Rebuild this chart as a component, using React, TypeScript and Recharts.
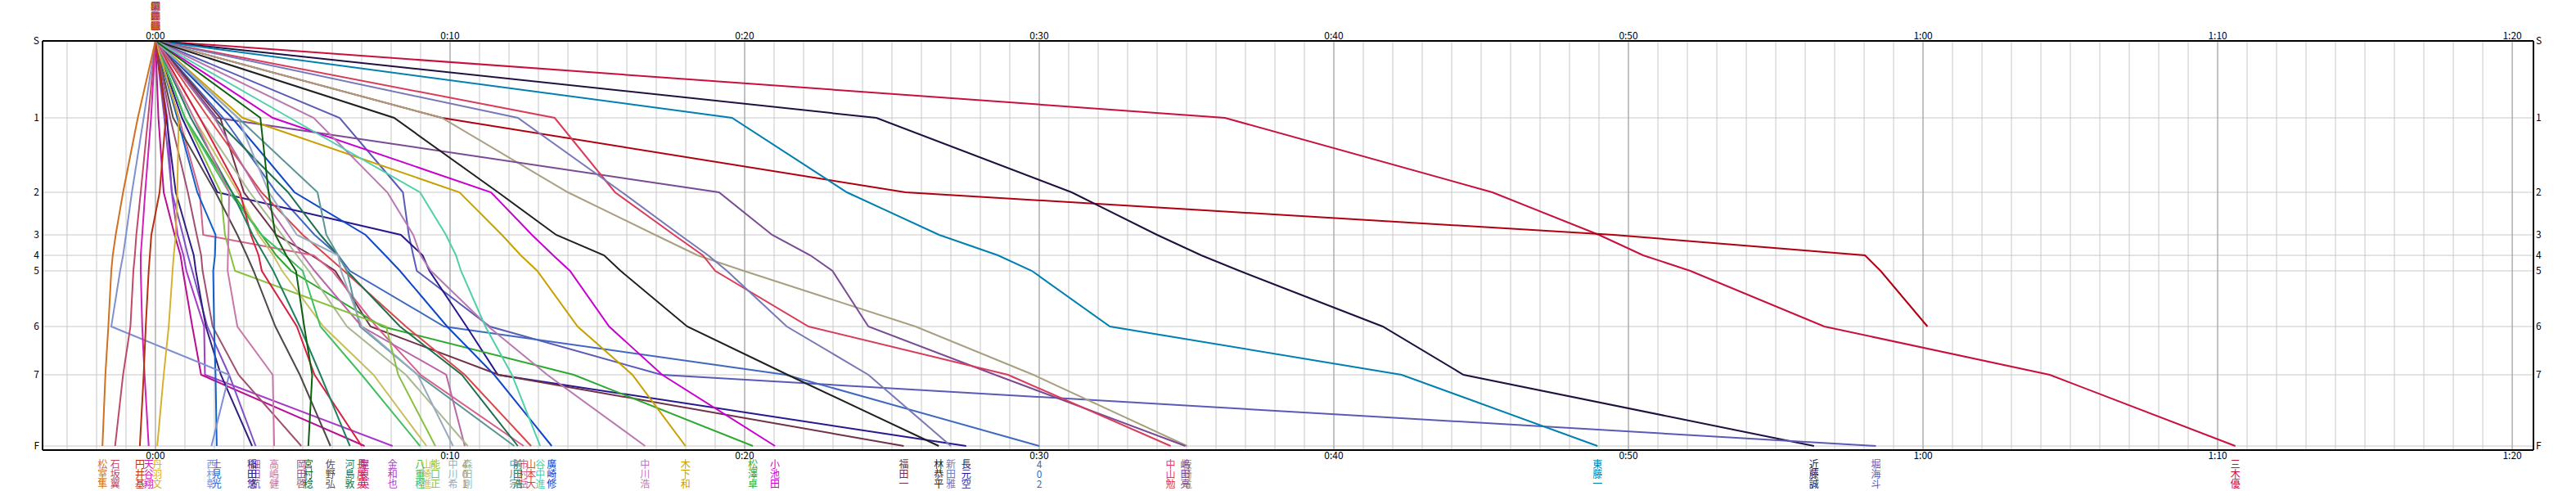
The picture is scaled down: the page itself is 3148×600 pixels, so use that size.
import React from 'react';
import { LineChart, Line, XAxis, YAxis, CartesianGrid } from 'recharts';

const FONT = '"Noto Sans CJK JP", "Noto Sans", sans-serif';
const W = 3148;
const H = 600;
const AXIS = 20;
const MARGIN = { top: 50 - AXIS, right: 52 - AXIS, bottom: 50 - AXIS, left: 52 - AXIS };

// controls, and where each one sits on the vertical scale
const CONTROL_LABELS = ['S', '1', '2', '3', '4', '5', '6', '7', 'F'];
const CONTROL_POS = [0, 94, 185, 237, 262, 281, 349, 408, 495];

// time axis (minutes)
const TIME_DOMAIN = [-3.833, 80.72];
const MAJOR_TICKS = [0, 10, 20, 30, 40, 50, 60, 70, 80];
const MINOR_TICKS = Array.from({ length: 84 }, (_, i) => i - 3);

const NAMES = [
  '三木優', '大西勇', '近藤誠', '堀海斗', '東藤一', '坂崎竜', '嶋田亮', '中山勉',
  '402', '長元空', '新田雅', '林恭平', '福田一', '小池田', '松澤卓', '木下和',
  '中川浩', '廣崎修', '谷中進', '山本大', '市村岳', '前田浩', '中川宗', '401',
  '森田剛', '中川希', '能口正', '山崎進', '八重樫', '金和也', '屋良英', '長屋英',
  '河島敦', '佐野弘', '宮村稔', '岡田啓', '高嶋健', '細田航', '稲田悠', '土見光',
  '西村彰', '丹羽文', '天谷翔', '円井基', '石坂翼', '松室隼',
];

// minutes at controls 1..7 and F (大西勇 stops at 6)
const SPLITS: number[][] = [
  [36.3, 45.38, 49.0, 50.5, 52.1, 56.65, 64.3, 70.6],
  [9.72, 25.46, 49.5, 58.03, 58.56, 60.15],
  [24.47, 31.1, 34.0, 35.5, 36.8, 41.66, 44.4, 56.3],
  [6.25, 8.4, 8.6, 8.75, 8.87, 11.35, 17.18, 58.4],
  [19.57, 23.47, 26.6, 28.6, 29.75, 32.4, 42.3, 48.95],
  [9.72, 14.0, 16.96, 18.4, 19.97, 25.8, 29.8, 35.02],
  [2.08, 19.13, 20.93, 22.23, 22.98, 24.2, 28.5, 34.96],
  [13.55, 15.6, 17.6, 18.58, 19.0, 22.17, 28.94, 34.46],
  [2.3, 4.1, 5.4, 6.2, 6.6, 9.8, 21.4, 30.0],
  [0.9, 2.1, 8.33, 9.07, 9.3, 10.56, 11.62, 27.52],
  [12.3, 15.84, 17.8, 18.76, 19.4, 21.43, 24.2, 27.0],
  [8.1, 11.63, 13.6, 15.23, 15.79, 18.05, 21.46, 26.59],
  [2.2, 3.0, 4.1, 5.3, 6.1, 7.3, 11.65, 25.4],
  [3.98, 11.39, 12.78, 13.5, 14.07, 15.4, 17.2, 21.03],
  [1.0, 2.6, 3.6, 4.1, 4.6, 7.7, 14.2, 20.28],
  [2.96, 10.32, 11.76, 12.4, 12.96, 14.33, 16.19, 17.99],
  [5.37, 7.87, 8.75, 9.0, 9.35, 11.3, 13.3, 16.62],
  [2.6, 4.72, 7.13, 7.8, 8.3, 9.9, 11.5, 13.45],
  [4.56, 8.98, 9.86, 10.2, 10.37, 11.2, 12.1, 13.06],
  [1.8, 3.6, 5.0, 5.8, 6.4, 8.5, 10.5, 12.75],
  [0.8, 1.5, 1.62, 5.37, 6.0, 7.5, 9.0, 12.5],
  [2.0, 4.5, 5.6, 6.2, 6.5, 8.3, 10.4, 12.3],
  [2.8, 5.5, 5.8, 6.2, 6.5, 6.94, 8.9, 12.18],
  [2.0, 3.5, 4.5, 5.0, 5.4, 7.0, 9.87, 10.5],
  [1.5, 3.2, 4.3, 4.8, 5.2, 6.5, 8.5, 10.6],
  [2.8, 3.85, 4.8, 6.2, 6.3, 7.0, 8.9, 10.1],
  [1.0, 2.22, 2.36, 2.55, 2.7, 7.83, 8.24, 9.5],
  [1.3, 2.8, 3.5, 4.0, 4.3, 5.7, 7.4, 9.2],
  [1.0, 2.5, 3.6, 4.4, 5.0, 5.6, 7.0, 8.98],
  [0.4, 0.55, 0.75, 0.95, 1.05, 1.65, 1.68, 8.05],
  [0.1, 0.28, 0.65, 0.85, 0.93, 1.25, 1.55, 7.1],
  [1.5, 2.87, 3.24, 3.5, 3.61, 4.8, 5.4, 7.0],
  [1.2, 2.6, 3.3, 3.7, 4.0, 4.9, 5.6, 6.6],
  [0.6, 2.04, 2.78, 3.1, 3.33, 4.07, 4.9, 5.94],
  [3.56, 3.84, 4.07, 4.44, 4.77, 5.05, 5.32, 5.19],
  [0.5, 1.1, 1.4, 1.55, 1.6, 1.94, 2.82, 4.95],
  [1.3, 2.5, 2.48, 2.46, 2.45, 2.78, 3.98, 4.03],
  [0.3, 0.56, 0.93, 1.1, 1.25, 1.76, 2.5, 3.4],
  [0.37, 0.69, 1.1, 1.3, 1.37, 1.71, 2.22, 3.28],
  [0.74, 1.42, 2.04, 2.02, 1.96, 1.99, 2.04, 2.08],
  [-0.4, -0.8, -1.0, -1.1, -1.2, -1.5, 2.5, 1.9],
  [0.79, 0.74, 0.69, 0.62, 0.58, 0.45, 0.28, 0.06],
  [-0.15, -0.35, -0.45, -0.5, -0.5, -0.45, -0.37, -0.23],
  [0.35, 0.14, -0.14, -0.19, -0.23, -0.33, -0.4, -0.53],
  [-0.25, -0.5, -0.65, -0.7, -0.75, -0.85, -1.1, -1.37],
  [-0.6, -1.1, -1.35, -1.45, -1.5, -1.6, -1.7, -1.8],
];

const COLORS = [
  '#c8103c', '#b00010', '#201040', '#5a5ab8', '#0080b0', '#a8a080', '#7a4a94', '#d83c5a',
  '#4068c0', '#281890', '#7878b8', '#202020', '#703048', '#c800d0', '#30a830', '#c8a000',
  '#b878b0', '#1048c8', '#50d0a8', '#d84848', '#d86088', '#207050', '#5a9494', '#b868a8',
  '#a8b890', '#98aac0', '#88c040', '#c8c060', '#40c060', '#a838c8', '#b81090', '#d82040',
  '#208060', '#504848', '#106010', '#a05070', '#c878a8', '#8050c8', '#302080', '#1060c8',
  '#8090d0', '#d8b030', '#d020b8', '#b83010', '#c04868', '#d07020',
];

const fmtTime = (m: number) => `${Math.floor(m / 60)}:${String(m % 60).padStart(2, '0')}`;

const series = SPLITS.map((row) => [
  { t: 0, y: CONTROL_POS[0] },
  ...row.map((t, k) => ({ t, y: CONTROL_POS[k + 1] })),
]);

const VName = ({ x, y, name, color, size = 12 }: any) => (
  <text x={x} y={y} fill={color} fontSize={size} fontFamily={FONT} textAnchor="middle">
    {Array.from(name as string).map((ch, k) => (
      <tspan key={k} x={x} dy={k === 0 ? 0 : 12}>
        {ch}
      </tspan>
    ))}
  </text>
);

// runner name at the start (top) and at the finish (below the plot)
const nameLabel = (i: number) => (p: any) => {
  const x = p.x ?? p.viewBox?.x;
  const y = p.y ?? p.viewBox?.y;
  const last = series[i].length - 1;
  if (p.index === 0)
    return <VName x={x} y={y - 38} name={NAMES[i]} color={COLORS[i]} size={11} />;
  if (p.index === last && SPLITS[i].length === 8)
    return <VName x={x} y={y + 27} name={NAMES[i]} color={COLORS[i]} />;
  return <g />;
};

// time labels are printed both above and below the plot
const TimeTick = ({ x, payload }: any) => (
  <g fontSize={12} fontFamily={FONT} fill="#000">
    <text x={x} y={48} textAnchor="middle">
      {fmtTime(payload.value)}
    </text>
    <text x={x} y={H - 39} textAnchor="middle">
      {fmtTime(payload.value)}
    </text>
  </g>
);

// control labels on both sides
const ControlTick = ({ y, payload }: any) => {
  const label = CONTROL_LABELS[CONTROL_POS.indexOf(payload.value)];
  return (
    <g fontSize={12} fontFamily={FONT} fill="#000">
      <text x={52 - 4} y={y + 4} textAnchor="end">
        {label}
      </text>
      <text x={W - 52 + 3} y={y + 4} textAnchor="start">
        {label}
      </text>
    </g>
  );
};

export default function App() {
  return (
    <div style={{ position: 'absolute', left: 0, top: 0, width: W, height: H, background: '#fff' }}>
      <LineChart width={W} height={H} margin={MARGIN}>
        <CartesianGrid
          xAxisId="b"
          yAxisId="l"
          stroke="#c8c8c8"
          strokeWidth={1}
          verticalValues={MINOR_TICKS}
        />
        <CartesianGrid xAxisId="b" yAxisId="l" stroke="#a0a0a0" strokeWidth={1} horizontal={false} />
        <XAxis
          xAxisId="b"
          type="number"
          dataKey="t"
          orientation="bottom"
          domain={TIME_DOMAIN}
          ticks={MAJOR_TICKS}
          interval={0}
          height={AXIS}
          tickLine={false}
          axisLine={{ stroke: '#000', strokeWidth: 2 }}
          tick={<TimeTick />}
        />
        <XAxis
          xAxisId="t"
          type="number"
          dataKey="t"
          orientation="top"
          domain={TIME_DOMAIN}
          height={AXIS}
          tick={false}
          tickLine={false}
          axisLine={{ stroke: '#000', strokeWidth: 2 }}
        />
        <YAxis
          yAxisId="l"
          type="number"
          domain={[0, 500]}
          reversed
          ticks={CONTROL_POS}
          interval={0}
          width={AXIS}
          tickLine={false}
          axisLine={{ stroke: '#000', strokeWidth: 2 }}
          tick={<ControlTick />}
        />
        <YAxis
          yAxisId="r"
          orientation="right"
          type="number"
          domain={[0, 500]}
          reversed
          width={AXIS}
          tick={false}
          tickLine={false}
          axisLine={{ stroke: '#000', strokeWidth: 2 }}
        />
        {series.map((pts, i) => (
          <Line
            key={NAMES[i]}
            data={pts}
            xAxisId="b"
            yAxisId="l"
            dataKey="y"
            type="linear"
            stroke={COLORS[i]}
            strokeWidth={2}
            dot={false}
            activeDot={false}
            isAnimationActive={false}
            label={nameLabel(i)}
          />
        ))}
      </LineChart>
    </div>
  );
}
